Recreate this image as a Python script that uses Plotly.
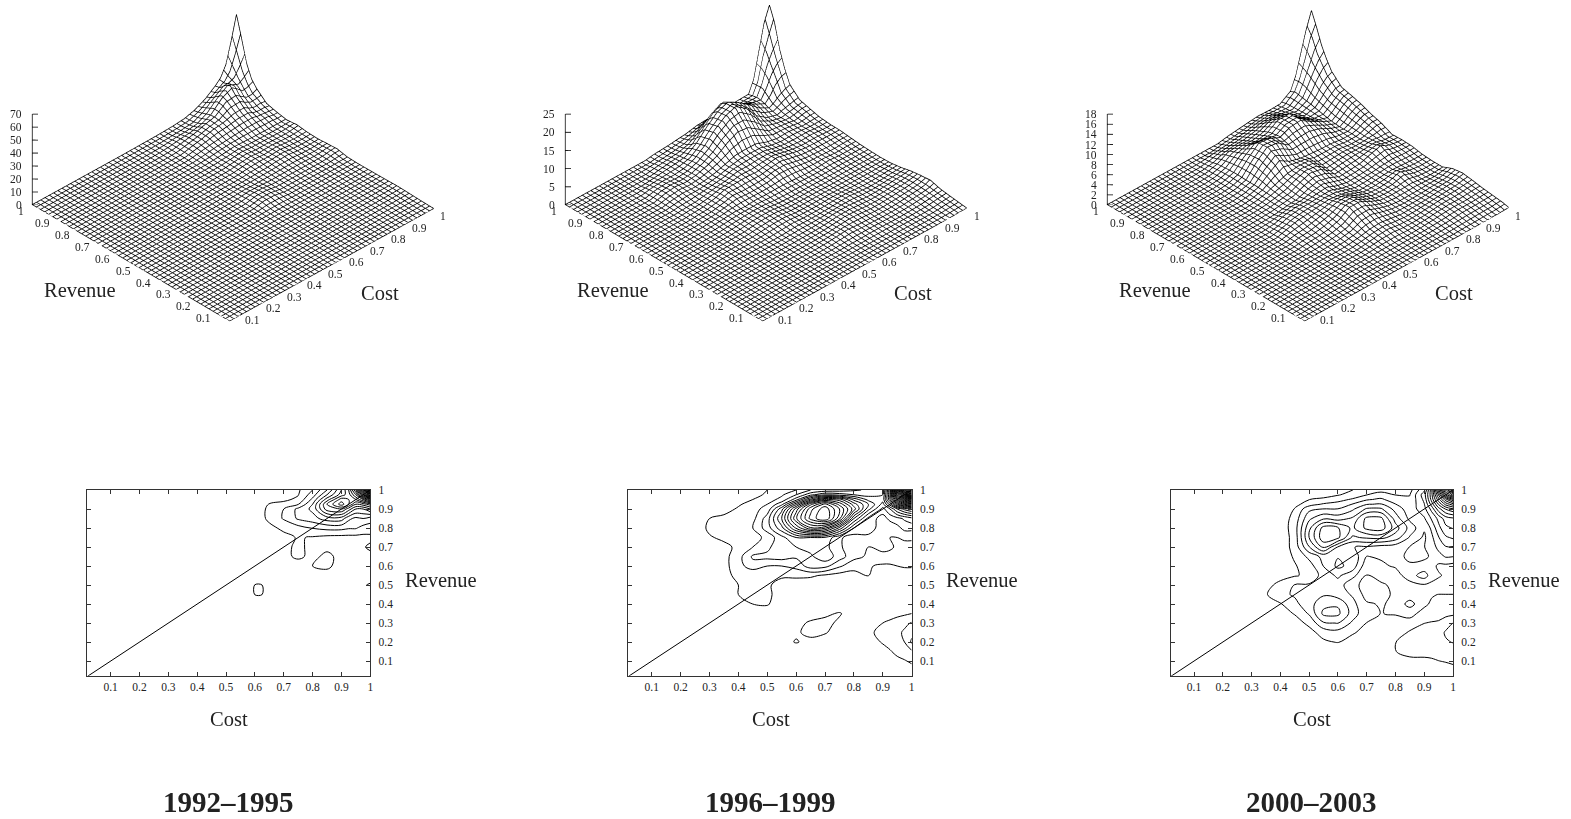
import numpy as np
import plotly.graph_objects as go

W, H = 1571, 819
grid = [0, .05, .1, .15, .2, .25, .3, .35, .4, .45, .5, .55, .6, .65, .7, .75, .8, .85, .9, .925, .95, .975, 1]
periods = ["1992–1995", "1996–1999", "2000–2003"]

# Rows run from revenue = 1 down to 0 (1, .975, .95, .925, .9, .85, ... 0);
# each row is right aligned on cost = 1, missing cells on the left are 0.
density_92 = [
 [.1,.2,.3,.5,.9,1.7,4,8,14,18,26,42,60],
 [.1,.2,.3,.6,1.0,1.9,5,10,15,17,22,32,44],
 [.1,.2,.5,1.1,1.6,2.4,6.5,13,19,18,18,22,27],
 [.1,.3,.9,2.1,2.6,3.9,8,16,21,18,14,15,17],
 [.1,.3,.9,2.4,4,6.5,8.5,15,16,13,10,10,12],
 [.1,.3,.6,2.5,4.2,6.3,7.2,9,9,6.5,5.5,6,5],
 [.1,.2,.4,1.4,2.5,3.2,4.1,4.6,4.6,4.2,4.2,3.2,3],
 [.1,.2,.3,.6,1.3,2.2,1.8,1.4,1.3,1.3,1.3,1.4,1.5],
 [.1,.2,.3,.6,1.5,2.4,1.5,1.6,1.4,1.3,1.3,1.8,2.4],
 [.1,.2,.3,.5,1.6,2.3,1.6,2.4,1.5,1.2,1,1.2,1.4],
 [.1,.2,.3,.5,1,1.2,2,2.4,1.2,1,.9,1,1.1],
 [.1,.3,.9,.7,.7,.9,1.1,1.2,.9,.9,1,1.4,1.6],
 [.1,.4,2.05,1.95,.6,.5,.5,.5,.5,.6,1,1.9,2.1],
 [.1,.3,2.05,1.95,.3,.3,.3,.3,.3,.3,.4,.5,.5],
 [.1,.2,.3,.3,.2,.2,.2,.2,.2,.2,.2,.2,.2],
 [.1,.1,.1,.1,.1,.1,.1,.1,.2,.2,.2,.3],
 [.1,.1,.1,.1,.1,.1,.2,.3,.3,.4,.4],
 [.1,.1,.1,.1,.2,.3,.4,.4,.5,.6],
 [.1,.1,.1,.2,.3,.4,.5,.6,.8],
 [.1,.1,.2,.3,.3,.4,.5,.6],
 [.1,.1,.1,.2,.2,.3],
 [.1,.1,.1,.1],
 [0],
]
density_96 = [
 [.4,.6,.9,1.2,1.8,2.0,2.1,2.3,2.5,2.6,6,13,20,24],
 [.4,.7,1.1,1.8,2.8,3.5,3.3,3,2.8,3,6,12,16,20],
 [.4,.6,.9,1.4,2.7,5,6.7,6.3,4.6,3.4,3.2,6,9.5,12,13.5],
 [.5,.9,1.2,2.2,4.6,7.6,9.2,7.6,5.7,4.2,2.8,4.5,7,8.5,9],
 [.3,.7,1,1.4,3.4,6.3,8.8,10,8.4,6.3,3.8,2.2,3,4.2,5,5.5],
 [.6,.8,.7,1,2.1,4.2,7.1,9.2,10.2,8,4.2,2.2,1.5,2,2.2,2.5,2.8],
 [.8,1.2,.8,1.2,2.1,3.4,5.5,7.1,6.7,4.6,2.4,2,1.6,1.3,1.6,2,2],
 [.5,.8,.65,.9,1.4,2.2,3,3,2.9,1.9,1.5,1.7,1.4,1.2,1.2,1.3,1.3],
 [.2,.35,.8,1.2,1.6,2.4,2.4,2.6,2.6,1.9,1.4,1.2,1.4,1.3,1.1,1,1],
 [.2,.4,.95,1.9,2,2.1,1.9,2.3,2.8,2.1,1.4,1.1,1,1,.95,.95,.95],
 [.2,.4,.95,1.55,1.2,1.2,1.4,2.1,2,1.3,.8,.65,.5,.5,.6,.65,.65],
 [.2,.48,.7,.6,.8,.7,.75,.7,.5,.35,.4,.62,.35,.35,.35,.35,.35],
 [.1,.35,.6,.8,.7,.35,.2,.2,.2,.2,.2,.2,.2,.2,.2,.2,.2],
 [.1,.2,.6,.75,.75,.3,.2,.2,.2,.1,.1,.1,.1,.1,.1,.1,.1],
 [.1,.35,.6,.65,.3,.2,.2,.3,.2,.1,.1,.1,.1,.2,.2,.2],
 [.1,.3,.2,.2,.3,.5,.65,.3,.1,.2,.3,.45,.5,.6],
 [.1,.1,.2,.4,.7,.75,.5,.25,.35,.6,.75,.85,1.05,1.25],
 [.1,.2,.5,.8,.65,.35,.3,.5,.75,.85,1.05,1.3,1.65],
 [.1,.35,.65,.4,.3,.2,.2,.35,.65,.8,.95,1.2,1.9],
 [.1,.1,.2,.2,.1,.1,.2,.4,.55,.75,.9,1.1],
 [.1,.1,.1,.15,.25,.45,.55,.7],
 [.1,.1,.2,.3,.35],
 [0],
]
density_00 = [
 [.4,.65,.9,1.1,1,1.1,2.5,5,9,13,16.2],
 [.4,.6,.9,1.3,1.6,1.3,1.3,3,5,8,11.5,13.5],
 [.25,.65,.8,1.1,1.4,1.9,2.1,1.6,1.4,2.8,4.8,7,9,10.5],
 [.1,.4,1.05,1.4,1.55,2,2.6,2.7,2,1.5,2.6,4.2,6,7.5,8.3],
 [.15,.7,1.8,2,2,2.5,3.4,3.4,2.4,1.6,2.4,3.5,5,6,6.5],
 [.25,.9,2.5,3.2,3,3.4,4.8,4.8,3,1.8,1.9,2.7,3.5,4.3,4.5],
 [.25,1,3.1,4.9,4.7,3.8,4.8,5,3.6,2.4,1.4,2.1,3.1,3.8,4],
 [.25,.9,3.3,5.1,4.8,3.2,3.4,3.5,3,1.9,1.2,1.8,2.6,3.2,3.4],
 [.25,.9,2.6,4.1,2.6,2,1.9,1.7,1.6,1.3,1.3,1.6,2.2,2.6,2.6],
 [.25,.75,1.5,2.2,2.6,2.5,1.3,1.4,1.5,1.2,1.2,1.4,1.7,2.05,2],
 [.1,.25,.6,1,2,2.8,2.4,.85,1.2,1.4,1.4,1.55,1.55,1.2,1.15,1.05],
 [.1,.25,.6,.8,1.6,2.1,1.55,.65,.8,1,1.7,2.3,1.65,1.4,1.2,1.15],
 [.3,1,1.35,1.4,1.55,1.7,.8,.5,.6,.75,1.05,1.25,1.15,1.05,1.05,1.05],
 [.6,1.15,1.4,1.65,1.9,1.65,1.25,.4,.5,.75,.9,.8,.7,.65,.65,.65],
 [.4,.6,1.15,1.7,2.45,2.55,1.55,.75,.6,.8,1.6,.75,.6,.45,.5,.5],
 [.25,.4,.7,1.4,2.8,2.8,1.7,.8,.65,.7,.8,.5,.4,.4,.45,.5],
 [.15,.4,.8,1.9,2,1.2,.65,.4,.45,.5,.65,.7,.75,1.05,1.35],
 [.15,.45,.9,1.05,.75,.4,.45,.5,.7,.9,1,1.05,1.4,1.65],
 [.25,.55,.7,.35,.3,.4,.65,.85,.95,1,1.15,1.25,1.35],
 [.1,.15,.15,.15,.25,.4,.65,.8,.75,.8,.9,1,1],
 [.1,.1,.15,.25,.35,.55,.6,.6,.65,.7,.75],
 [.1,.15,.25,.3,.3,.4,.5],
 [0],
]
z_max = [70, 25, 18]
z_ticks = [[0, 10, 20, 30, 40, 50, 60, 70], [0, 5, 10, 15, 20, 25], [0, 2, 4, 6, 8, 10, 12, 14, 16, 18]]
contour_step = [2, .6, .66]
tick_vals = [.1, .2, .3, .4, .5, .6, .7, .8, .9, 1]
tick_text = ["0.1", "0.2", "0.3", "0.4", "0.5", "0.6", "0.7", "0.8", "0.9", "1"]

box_center_x = [232.7, 766, 1307.5]
contour_left = [87.3, 628.3, 1170.7]
contour_right = [370.3, 911.7, 1453]
revenue3d_x = [80, 613, 1154.8]
cost3d_x = [380, 913, 1454]
revenue2d_x = [441, 982, 1524]
cost2d_x = [228.5, 770.5, 1311.6]
LOW = .02
CELLS = 48
SERIF = "Liberation Serif"
tickfont = dict(family=SERIF, size=11.5, color="#222")
labelfont = dict(family=SERIF, size=20.5, color="#222")

def matrix(rows):
    m = [[0] * (len(grid) - len(r)) + r for r in rows]
    return m[::-1]

def wire_traces(z, lift):
    """Mesh lines of the surface: every line follows the read values of z between grid nodes."""
    g = np.array(grid, float)
    zarr = np.array(z, float)
    levels = np.linspace(LOW, 1, CELLS + 1)
    along = np.unique(np.concatenate([g[g >= LOW], levels]))
    xs, ys, zs = [], [], []
    for c in levels:
        col = [np.interp(c, g, zarr[r, :]) for r in range(len(g))]
        xs += [c] * len(along) + [None]
        ys += list(along) + [None]
        zs += list(np.interp(along, g, col) + lift) + [None]
        row = [np.interp(c, g, zarr[:, k]) for k in range(len(g))]
        xs += list(along) + [None]
        ys += [c] * len(along) + [None]
        zs += list(np.interp(along, g, row) + lift) + [None]
    return xs, ys, zs

fig = go.Figure()
layout = dict(width=W, height=H, margin=dict(l=0, r=0, t=0, b=0, autoexpand=False), paper_bgcolor="white",
              plot_bgcolor="white", showlegend=False)
annots = []
for i, rows in enumerate([density_92, density_96, density_00]):
    z = matrix(rows)
    sid = "scene" if i == 0 else f"scene{i+1}"
    xid, yid = ("x", "y") if i == 0 else (f"x{i+1}", f"y{i+1}")
    axx, axy = xid.replace("x", "xaxis"), yid.replace("y", "yaxis")
    fig.add_trace(go.Surface(x=grid, y=grid, z=z, scene=sid, showscale=False,
                             colorscale=[[0, "white"], [1, "white"]],
                             lighting=dict(ambient=1, diffuse=0, specular=0, fresnel=0, roughness=1),
                             hoverinfo="skip"))
    wx, wy, wz = wire_traces(z, z_max[i] * .004)
    fig.add_trace(go.Scatter3d(x=wx, y=wy, z=wz, mode="lines", scene=sid, connectgaps=False,
                               line=dict(color="black", width=1.5), hoverinfo="skip"))
    zx, zy, zz = [LOW, LOW], [1, 1], [0, z_max[i]]
    for t in z_ticks[i]:
        zx += [None, LOW, LOW + .014]
        zy += [None, 1, 1 - .014]
        zz += [None, t, t]
    fig.add_trace(go.Scatter3d(x=zx, y=zy, z=zz, mode="lines", scene=sid,
                               line=dict(color="black", width=1.6), hoverinfo="skip"))
    sc_ann = []
    for v, s in zip(tick_vals, tick_text):
        last = v == 1
        sc_ann.append(dict(x=LOW, y=v, z=0, text=s, showarrow=False, xanchor="right", yanchor="middle",
                           xshift=-6 if last else 0, yshift=-6, font=tickfont))
        sc_ann.append(dict(x=v, y=LOW, z=0, text=s, showarrow=False, xanchor="left", yanchor="middle",
                           xshift=5 if last else -3, yshift=-7, font=tickfont))
    for t in z_ticks[i]:
        sc_ann.append(dict(x=LOW, y=1, z=t, text=str(t), showarrow=False, xanchor="right", yanchor="middle",
                           xshift=-8, font=tickfont))
    hidden = dict(visible=False)
    dw, dh = 460, 323.4
    L = 2.5
    A = 1.758
    layout[sid] = dict(domain=dict(x=[(box_center_x[i] - dw / 2) / W, (box_center_x[i] + dw / 2) / W],
                                   y=[1 - dh / H, 1]),
                       xaxis=dict(hidden, range=[LOW, 1]), yaxis=dict(hidden, range=[LOW, 1]),
                       zaxis=dict(hidden, range=[0, z_max[i]]),
                       aspectmode="manual", aspectratio=dict(x=A, y=A, z=.6846),
                       camera=dict(projection=dict(type="orthographic"),
                                   eye=dict(x=-.571 * L, y=-.591 * L, z=.57 * L),
                                   center=dict(x=0, y=0, z=0), up=dict(x=0, y=0, z=1)),
                       annotations=sc_ann, bgcolor="white")
    fig.add_trace(go.Contour(x=grid, y=grid, z=z, xaxis=xid, yaxis=yid, showscale=False,
                             contours=dict(coloring="lines", start=contour_step[i], end=max(map(max, z)),
                                           size=contour_step[i]),
                             colorscale=[[0, "black"], [1, "black"]],
                             line=dict(color="black", width=1, smoothing=1), hoverinfo="skip"))
    fig.add_trace(go.Scatter(x=[LOW, 1], y=[LOW, 1], xaxis=xid, yaxis=yid, mode="lines",
                             line=dict(color="black", width=1), hoverinfo="skip"))
    common = dict(tickvals=tick_vals, ticktext=tick_text, ticks="inside", ticklen=4, tickcolor="#333",
                  showline=True, linecolor="#333", linewidth=1, mirror="ticks", showgrid=False,
                  zeroline=False, tickfont=tickfont)
    layout[axx] = dict(common, domain=[contour_left[i] / W, contour_right[i] / W], anchor=yid, range=[.019, 1])
    layout[axy] = dict(common, domain=[1 - 675.7 / H, 1 - 490 / H], anchor=xid, range=[.023, 1], side="right",
                       ticklabelstandoff=5)
    for txt, px, py, font in [("Revenue", revenue3d_x[i], 290, labelfont), ("Cost", cost3d_x[i], 293, labelfont),
                              ("Revenue", revenue2d_x[i], 580, labelfont), ("Cost", cost2d_x[i], 719, labelfont),
                              (periods[i], cost2d_x[i], 802,
                               dict(family=SERIF, size=29, color="#222", weight="bold"))]:
        annots.append(dict(x=px / W, y=1 - py / H, xref="paper", yref="paper", text=txt, showarrow=False,
                           xanchor="center", yanchor="middle", font=font))
layout["annotations"] = annots
fig.update_layout(**layout)
fig.write_html("out.html", config=dict(displayModeBar=False),
               post_script="document.body.style.margin='0';")
